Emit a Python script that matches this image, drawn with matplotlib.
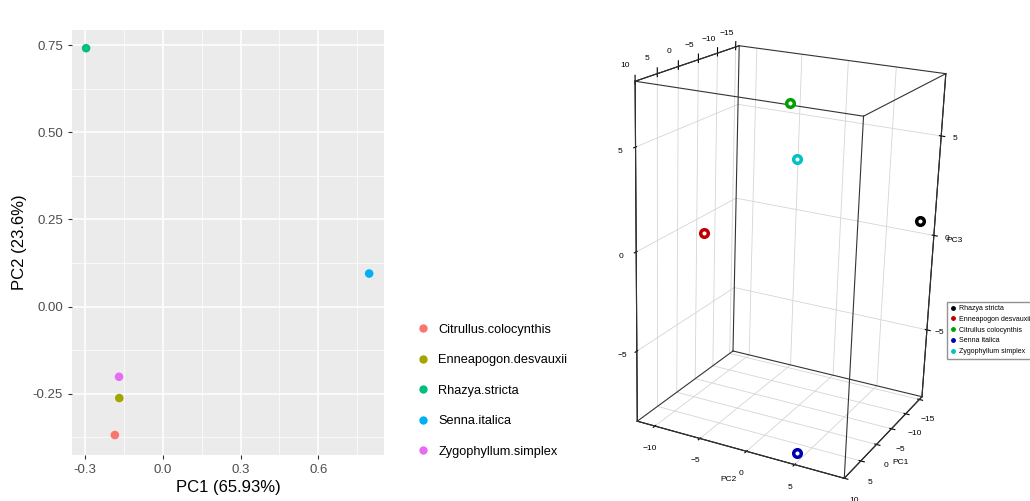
import matplotlib.pyplot as plt
from matplotlib.lines import Line2D
import itertools

plt.rcParams['font.family'] = ['Liberation Sans', 'DejaVu Sans']

# left panel: PCA scatter (ggplot look)
species = ['Citrullus.colocynthis', 'Enneapogon.desvauxii', 'Rhazya.stricta',
           'Senna.italica', 'Zygophyllum.simplex']
pc1 = [-0.185, -0.168, -0.296, 0.796, -0.169]
pc2 = [-0.368, -0.262, 0.741, 0.095, -0.201]
gg_colors = ['#F8766D', '#A3A500', '#00BF7D', '#00B0F6', '#E76BF3']

# right panel: 3D PCA
names3d = ['Rhazya stricta', 'Enneapogon desvauxii', 'Citrullus colocynthis',
           'Senna italica', 'Zygophyllum simplex']
pc1_3d = [-12, 0, -6, 9.5, -3]
pc2_3d = [9.5, -9, -2.5, 5, -0.5]
pc3_3d = [1.1, 0.1, 6.5, -8.2, 4.2]
colors3d = ['black', '#C00000', '#00A000', '#0000B0', '#00C0C8']

fig = plt.figure(figsize=(10.3, 5.01), dpi=100)

ax = fig.add_axes([0.070, 0.092, 0.303, 0.848])
ax.set_facecolor('#EBEBEB')
for s in ax.spines.values():
    s.set_visible(False)
ax.set_xlim(-0.35, 0.854)
ax.set_ylim(-0.425, 0.793)
ax.set_xticks([-0.3, 0.0, 0.3, 0.6])
ax.set_xticklabels(['-0.3', '0.0', '0.3', '0.6'])
ax.set_xticks([-0.15, 0.15, 0.45, 0.75], minor=True)
ax.set_yticks([-0.25, 0.0, 0.25, 0.5, 0.75])
ax.set_yticklabels(['-0.25', '0.00', '0.25', '0.50', '0.75'])
ax.set_yticks([-0.375, -0.125, 0.125, 0.375, 0.625], minor=True)
ax.grid(which='major', color='white', lw=1.1)
ax.grid(which='minor', color='white', lw=0.5)
ax.set_axisbelow(True)
ax.tick_params(which='major', length=3, color='#333333', labelcolor='#4D4D4D', labelsize=9.5)
ax.tick_params(which='minor', length=0)
ax.set_xlabel('PC1 (65.93%)', fontsize=12, labelpad=3)
ax.set_ylabel('PC2 (23.6%)', fontsize=12, labelpad=4)
for x, y, c in zip(pc1, pc2, gg_colors):
    ax.scatter(x, y, s=38, color=c, zorder=3, edgecolors='none')

handles = [Line2D([], [], marker='o', ls='none', color=c, markersize=5) for c in gg_colors]
fig.legend(handles, species, loc='center left', bbox_to_anchor=(0.392, 0.22),
           frameon=False, fontsize=9.2, handlelength=1.2, labelspacing=1.45,
           handletextpad=0.6)

# right panel
ax3 = fig.add_axes([0.540, -0.112, 0.44, 1.20], projection='3d')
ax3.set_proj_type('persp', focal_length=0.55)
xl, yl, zl = (-12, 10), (-16, 10), (-8.7, 8)
ax3.set_xlim(xl[1], xl[0])
ax3.set_ylim(*yl)
ax3.set_zlim(*zl)
ax3.set_box_aspect((1.15, 1.0, 1.75))
ax3.view_init(elev=20, azim=116, roll=-2)
for a in (ax3.xaxis, ax3.yaxis, ax3.zaxis):
    a.set_pane_color((1, 1, 1, 1))
    a._axinfo['grid']['color'] = '#D5D5D5'
    a._axinfo['grid']['linewidth'] = 0.6
    a.line.set_color('black')
ax3.set_xticks([-10, -5, 0, 5])
ax3.set_yticks([-15, -10, -5, 0, 5, 10])
ax3.set_zticks([-5, 0, 5])
ax3.yaxis.set_ticks_position('both')
ax3.zaxis.set_ticks_position('both')
ax3.tick_params(labelsize=6, pad=0)
ax3.set_xlabel('PC2', fontsize=6, labelpad=-8)
ax3.set_ylabel('PC1', fontsize=6, labelpad=-8)
ax3.set_zlabel('PC3', fontsize=6, labelpad=-8)
for p, q in itertools.combinations(itertools.product(xl, yl, zl), 2):
    if sum(a != b for a, b in zip(p, q)) == 1:
        ax3.plot(*zip(p, q), color='#333333', lw=0.8)
for x, y, z, c in zip(pc2_3d, pc1_3d, pc3_3d, colors3d):
    ax3.scatter(x, y, z, s=30, facecolor='white', edgecolor=c, linewidths=2.5,
                depthshade=False)

h3 = [Line2D([], [], marker='o', ls='none', color=c, markersize=2.5) for c in colors3d]
fig.legend(h3, names3d, loc='upper left', bbox_to_anchor=(0.916, 0.405), fontsize=5,
           frameon=True, fancybox=False, edgecolor='#777777', handlelength=0.8,
           labelspacing=0.55, handletextpad=0.5, borderpad=0.5)

fig.savefig('out.png', dpi=100)
